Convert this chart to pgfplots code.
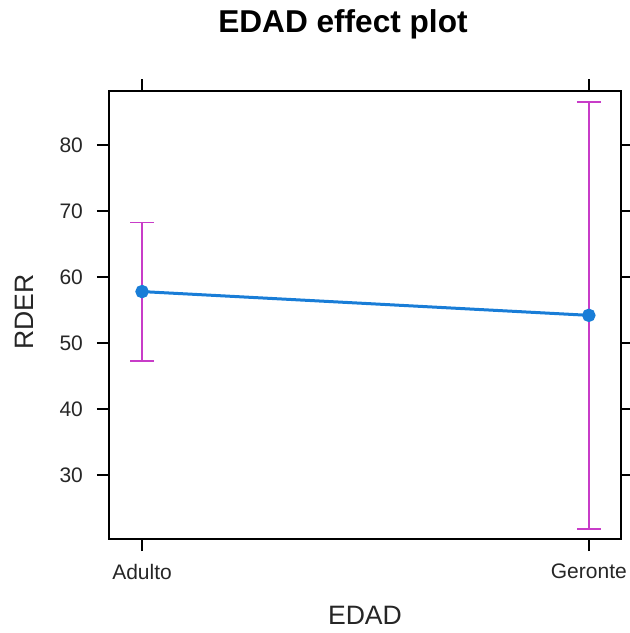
\documentclass[border=0pt]{standalone}
\usepackage{pgfplots}
\pgfplotsset{compat=1.18}
\usepackage{fontspec}
\setmainfont{Liberation Sans}
\definecolor{effblue}{RGB}{25,125,215}
\definecolor{effmag}{RGB}{200,60,200}
\begin{document}
\begin{tikzpicture}
\begin{axis}[
  name=a,
  at={(0,0)}, anchor=south west,
  scale only axis,
  width=256pt, height=224pt,
  xmin=-0.074, xmax=1.072,
  ymin=20.3, ymax=88.2,
  xtick={0,1}, xticklabels={Adulto,Geronte},
  ytick={30,40,50,60,70,80},
  tick align=outside,
  tick pos=both,
  xticklabel pos=bottom,
  yticklabel pos=left,
  major tick length=6pt,
  axis line style={line width=0.7pt},
  every tick/.style={black, line width=0.7pt},
  /pgf/number format/assume math mode=true,
  ticklabel style={font=\fontsize{10.5pt}{12pt}\selectfont, text=black!85},
  xticklabel style={yshift=-3pt},
  yticklabel style={xshift=-3.5pt},
  clip=false,
]
\addplot[effmag, line width=0.8pt, draw=none,
  error bars/.cd, y dir=both, y explicit,
  error bar style={effmag, line width=0.8pt},
  error mark options={rotate=90, mark size=6pt, effmag, line width=0.8pt}]
  coordinates {(0,57.8) +- (0,10.5) (1,54.2) +- (0,32.35)};
\addplot[effblue, line width=1.5pt, mark=*, mark size=2.6pt,
  mark options={fill=effblue, draw=effblue}]
  coordinates {(0,57.8) (1,54.2)};
\end{axis}
\node[font=\bfseries\fontsize{15.8pt}{18pt}\selectfont] at (117pt,257.5pt) {EDAD effect plot};
\node[font=\fontsize{13.3pt}{16pt}\selectfont, text=black!85] at (128pt,-38pt) {EDAD};
\node[font=\fontsize{13.3pt}{16pt}\selectfont, text=black!85, rotate=90] at (-42.5pt,113.5pt) {RDER};
\pgfresetboundingbox
\path[use as bounding box] (-54.5pt,-47pt) rectangle (260.5pt,269.5pt);
\end{tikzpicture}
\end{document}
